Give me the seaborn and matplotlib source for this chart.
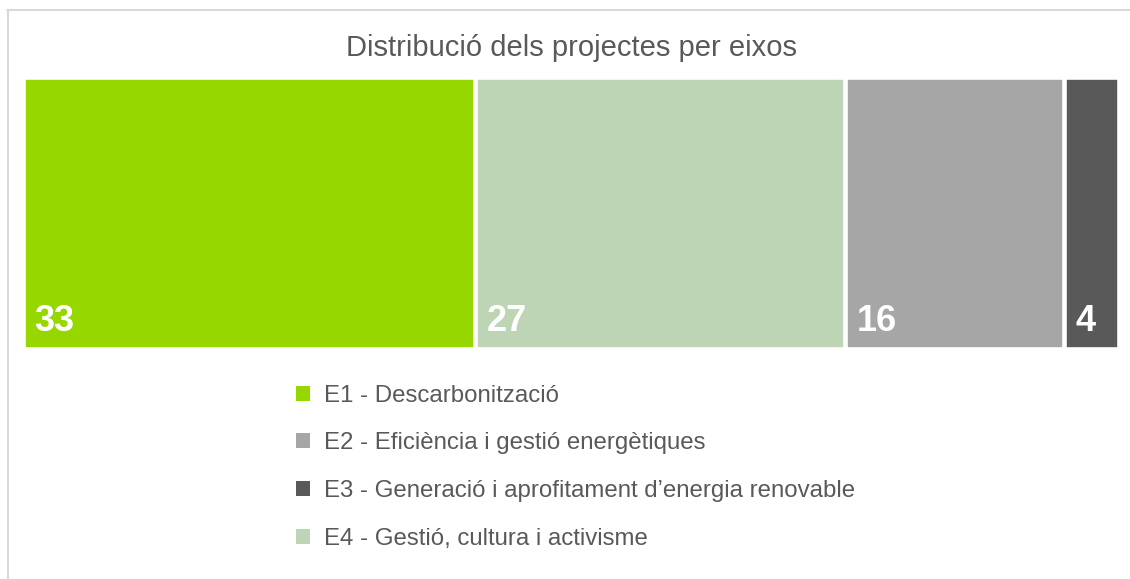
import matplotlib
matplotlib.use("Agg")
import matplotlib.pyplot as plt
from matplotlib.patches import Patch
from matplotlib.lines import Line2D
import seaborn as sns
import pandas as pd
import numpy as np

# ---- data ----
eixos = ["E1 - Descarbonització",
         "E2 - Eficiència i gestió energètiques",
         "E3 - Generació i aprofitament d’energia renovable",
         "E4 - Gestió, cultura i activisme"]
projectes = [33, 16, 4, 27]
colors = ["#97D700", "#A6A6A6", "#595959", "#BDD5B4"]
segment_order = ["E1 - Descarbonització",
                 "E4 - Gestió, cultura i activisme",
                 "E2 - Eficiència i gestió energètiques",
                 "E3 - Generació i aprofitament d’energia renovable"]
title = "Distribució dels projectes per eixos"

sns.set_style("white")
plt.rcParams["font.family"] = ["Liberation Sans", "DejaVu Sans"]

W, H = 1130, 579
fig = plt.figure(figsize=(W / 100, H / 100), dpi=100)

val = dict(zip(eixos, projectes))
col = dict(zip(eixos, colors))
seg_vals = [val[e] for e in segment_order]
cum = np.cumsum(seg_vals)
left = cum - np.array(seg_vals)
total = cum[-1]

df = pd.DataFrame({"eix": segment_order, "cum": cum, "row": [""] * len(segment_order)})
draw_order = list(reversed(segment_order))

# axes placement in pixels
lw_px = 4.6
x0, x1 = 25 - lw_px / 2, 1117 + lw_px / 2
yt, yb = 79 - lw_px / 2, 347 + lw_px / 2
ax = fig.add_axes([x0 / W, 1 - yb / H, (x1 - x0) / W, (yb - yt) / H])

sns.barplot(data=df, x="cum", y="row", hue="eix", hue_order=draw_order,
            palette=col, dodge=False, width=1, orient="h", saturation=1,
            edgecolor="white", linewidth=lw_px * 72 / 100, legend=False, ax=ax)
ax.set_xlim(0, total)
ax.set_ylim(0.5, -0.5)
ax.axis("off")

for l, v in zip(left, seg_vals):
    ax.annotate(str(v), xy=(l, 0.5), xytext=(8.2, 13.4), textcoords="offset points",
                ha="left", va="baseline", color="white", fontweight="bold", fontsize=26)

fig.text(571.5 / W, 1 - 55.7 / H, title, ha="center", va="baseline",
         fontsize=21, color="#595959")

fs = 17.3
fs_px = fs * 100 / 72
handles = [Patch(facecolor=col[e], edgecolor="none") for e in eixos]
fig.legend(handles, eixos, loc="upper left", bbox_to_anchor=(296 / W, 1 - 384.5 / H),
           frameon=False, borderpad=0, borderaxespad=0, fontsize=fs,
           handlelength=14 / fs_px, handleheight=14 / fs_px,
           handletextpad=14 / fs_px, labelspacing=1.075, labelcolor="#595959")

# outer frame (partially visible)
fig.add_artist(Line2D([7.5 / W, 7.5 / W], [1 - 10 / H, 0], color="#D9D9D9", lw=1.5,
                      transform=fig.transFigure))
fig.add_artist(Line2D([7 / W, 1], [1 - 10 / H, 1 - 10 / H], color="#D9D9D9", lw=1.5,
                      transform=fig.transFigure))

fig.savefig("out.png", dpi=100)
